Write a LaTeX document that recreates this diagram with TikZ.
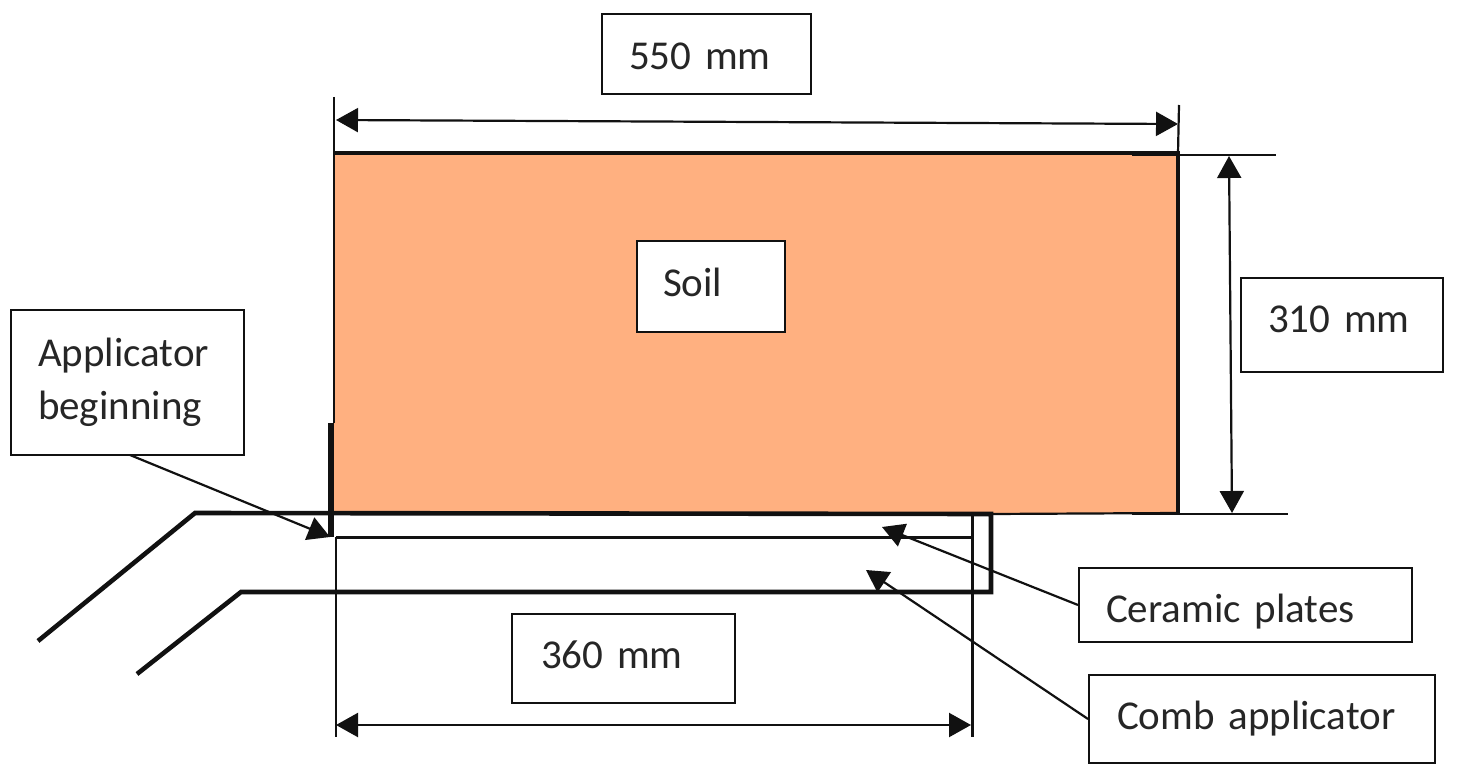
\documentclass[tikz,border=0pt]{standalone}
\usepackage{fontspec}
\setmainfont{Carlito}[WordSpace=0.75]
\usetikzlibrary{arrows.meta}
\definecolor{soilc}{HTML}{FFB080}
\definecolor{inkc}{HTML}{111111}
\definecolor{textc}{HTML}{262626}
\newcommand{\liftby}[2]{\raisebox{#1pt}[0pt][0pt]{#2}}
\tikzset{
  x=1pt,y=-1pt,
  lbl/.style={draw=inkc,line width=2pt,fill=white,text=textc,font=\fontsize{41}{53}\selectfont,align=left,inner ysep=0pt,inner xsep=27pt,anchor=center},
  thick line/.style={draw=inkc,line width=3.6pt,line join=miter},
  thin line/.style={draw=inkc,line width=2.2pt},
  dimarrow/.style={thin line,{Triangle[length=22pt,width=24pt]}-{Triangle[length=22pt,width=24pt]}},
  leader/.style={thin line,-{Triangle[length=22pt,width=24pt]}}
}
\begin{document}
\begin{tikzpicture}
\useasboundingbox (0,0) rectangle (1458,778);
\fill[white] (0,0) rectangle (1458,778);
% soil body
\fill[soilc] (334,153) rectangle (1178,513);
% named reference points
\coordinate (tl) at (334,153);
\coordinate (tr) at (1178,153);
\coordinate (br) at (1178,513);
\coordinate (extTLtop) at (334,97);
\coordinate (extTRtop) at (1179,105);
\coordinate (extRa) at (1132,155);
\coordinate (extRb) at (1276,155);
\coordinate (extRc) at (1132,514);
\coordinate (extRd) at (1288,514);
\coordinate (wallTop) at (331,423);
\coordinate (wallBot) at (331,537);
\coordinate (extBLa) at (336,537);
\coordinate (extBLb) at (336,737);
\coordinate (extBRa) at (972,513);
\coordinate (extBRb) at (972,737);
\coordinate (plateR) at (972,537);
\coordinate (t1a) at (38,641);
\coordinate (t1b) at (195,513);
\coordinate (t1c) at (991,514);
\coordinate (t1d) at (991,592);
\coordinate (t2b) at (241,592);
\coordinate (t2a) at (137,674);
\coordinate (dimTa) at (336,120);
\coordinate (dimTb) at (1178,124);
\coordinate (dimRa) at (1229,156);
\coordinate (dimRb) at (1232,513);
\coordinate (dimBa) at (336,725);
\coordinate (dimBb) at (971,725);
\coordinate (appOut) at (130,455);
\coordinate (appTip) at (330,537);
\coordinate (cerTip) at (882,527);
\coordinate (cmbTip) at (866,570);
% outlines
\draw[thin line] (extTLtop) -- (wallTop -| tl);
\draw[thin line] (extTRtop) -- (tr);
\draw[thick line] (tl) -- (tr) -- (br);
\draw[thin line] (t1c) -- (br);
\draw[thin line] (extRa) -- (extRb);
\draw[thin line] (extRc) -- (extRd);
\draw[thin line] (extBLa) -- (extBLb);
\draw[draw=inkc,line width=3pt] (extBRa) -- (extBRb);
\draw[draw=inkc,line width=3pt] (extBLa) -- (plateR);
\draw[thick line,line width=4.6pt] (t1a) -- (t1b) -- (t1c) -- (t1d) -- (t2b) -- (t2a);
\draw[draw=inkc,line width=5.5pt] (wallTop) -- (wallBot);
% dimension arrows
\draw[dimarrow] (dimTa) -- (dimTb);
\draw[dimarrow] (dimRa) -- (dimRb);
\draw[dimarrow] (dimBa) -- (dimBb);
% labels
\node[lbl,minimum height=80pt,text width=155pt] (w) at (706.5,54) {\liftby{-16}{550 mm}};
\node[lbl,minimum height=91pt,text width=96pt,inner xsep=26pt] (soil) at (711,286.5) {\liftby{-10}{Soil}};
\node[lbl,minimum height=94pt,text width=148pt] (h) at (1342,325) {\liftby{-7}{310 mm}};
\node[lbl,minimum height=145pt,text width=179pt] (app) at (127.5,382.5) {Applicator\\beginning};
\node[lbl,minimum height=89pt,text width=165pt,inner xsep=29pt] (l) at (623.5,658.5) {\liftby{-9.5}{360 mm}};
\node[lbl,minimum height=74pt,text width=279pt] (cer) at (1245.5,605) {\liftby{-17}{Ceramic plates}};
\node[lbl,minimum height=88pt,text width=290pt,inner xsep=28pt] (cmb) at (1262,719) {\liftby{-10}{Comb applicator}};
% leaders
\draw[leader] (appOut) -- (appTip);
\draw[leader] (cer.west) -- (cerTip);
\draw[leader] (cmb.west) -- (cmbTip);
\end{tikzpicture}
\end{document}
